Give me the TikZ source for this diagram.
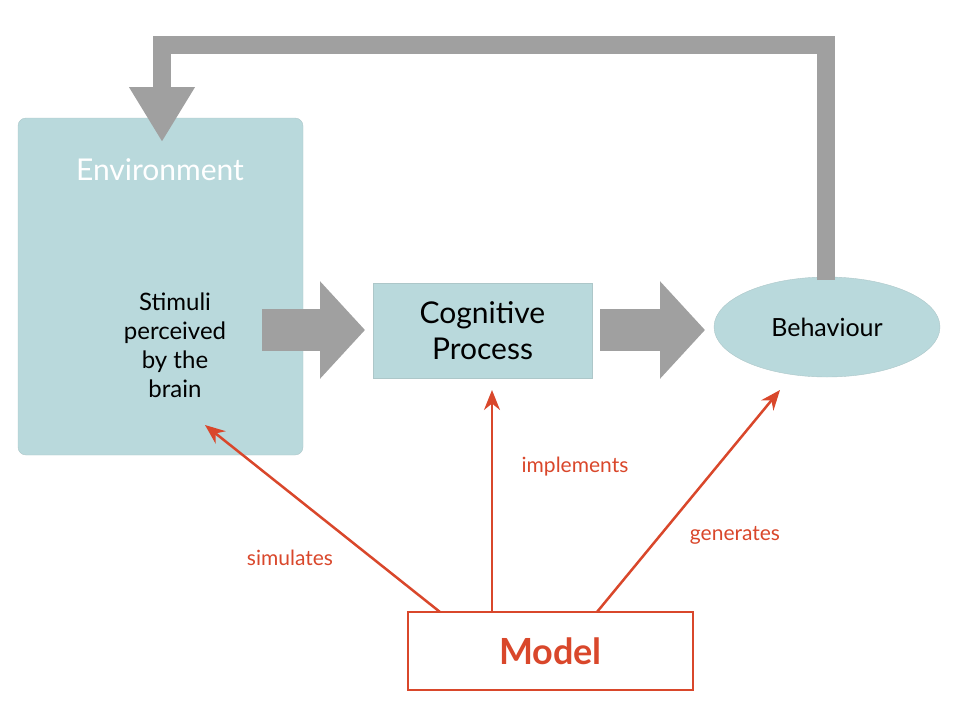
\documentclass[tikz,border=0pt]{standalone}
\usepackage{fontspec}
\setmainfont{Lato}
\usetikzlibrary{shapes.geometric,arrows.meta,positioning}
\definecolor{boxteal}{HTML}{B9D9DC}
\definecolor{flowgray}{HTML}{A0A0A0}
\definecolor{modelred}{HTML}{D9472B}
\tikzset{
  box/.style={fill=boxteal, draw=boxteal!80!gray, rounded corners=8pt},
  flow/.style={flowgray, line width=42pt, -{Triangle[length=45pt,width=95pt]}},
  link/.style={modelred, line width=2.5pt, -{Stealth[length=20pt,width=16pt]}},
  lbl/.style={modelred, font=\fontsize{21}{24}\selectfont}
}
\begin{document}
\begin{tikzpicture}[x=1pt,y=-1pt]
  \useasboundingbox (0,0) rectangle (962,716);
  % boxes
  \node[box, minimum width=285pt, minimum height=337pt] (env) at (160.5,286.5) {};
  \node[white, font=\fontsize{30}{34}\selectfont] (envt) at (160,170) {Environment};
  \node[align=center, font=\fontsize{24}{29}\selectfont] (stim) at (175,345) {Stimuli\\perceived\\by the\\brain};
  \node[box, rounded corners=0pt, minimum width=219pt, minimum height=95pt, align=center,
        font=\fontsize{30}{36}\selectfont] (cog) at (482.5,330.5) {Cognitive\\Process};
  \node[ellipse, fill=boxteal, draw=boxteal!80!gray, minimum width=226pt, minimum height=100pt,
        font=\fontsize{25}{30}\selectfont] (beh) at (827,327) {Behaviour};
  % gray flow
  \draw[flow] (262,330) -- (365,330);
  \draw[flow] (600,330) -- (705,330);
  \coordinate (up) at (826,45);
  \coordinate (lt) at (162,45);
  \coordinate (tip) at (162,142);
  \draw[flowgray, line width=18pt, line join=miter, -{Triangle[length=55pt,width=62pt]}]
    (826,280) -- (up) -- (lt) -- (tip);
  % model
  \node[draw=modelred, line width=2.5pt, minimum width=285pt, minimum height=78pt,
        text=modelred, font=\bfseries\fontsize{36}{40}\selectfont] (model) at (550.5,651) {Model};
  \draw[link] (440,612) -- (205,425);
  \draw[link] (492,612) -- (492,390);
  \draw[link] (597,612) -- (780,390);
  \node[lbl] (sim) at (290,558) {simulates};
  \node[lbl] (imp) at (575,467) {implements};
  \node[lbl] (gen) at (735,535) {generates};
\end{tikzpicture}
\end{document}
